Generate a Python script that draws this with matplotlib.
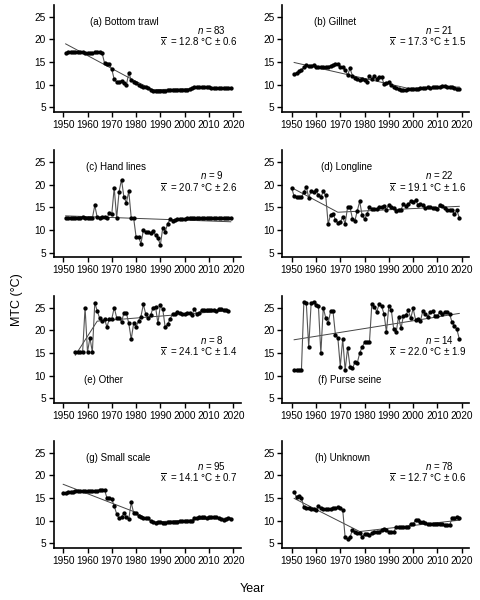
import numpy as np
import matplotlib
matplotlib.use("Agg")
import matplotlib.pyplot as plt

plt.rcParams['font.family'] = ['Liberation Sans', 'DejaVu Sans']
plt.rcParams['mathtext.fontset'] = 'custom'
plt.rcParams['mathtext.rm'] = 'Liberation Sans'
plt.rcParams['mathtext.it'] = 'Liberation Sans:italic'

# --- data (MTC per gear) ---
start_a = 1951
mtc_a = [17.0, 17.1, 17.1, 17.1, 17.1, 17.1, 17.1, 17.1, 17.0, 17.0, 17.0, 17.0, 17.1, 17.1, 17.1, 17.0,
         14.8, 14.6, 14.5, 13.4, 11.2, 10.6, 10.7, 10.9, 10.4, 9.9,
         12.6, 11.0, 10.7, 10.3, 10.0, 9.7, 9.4, 9.5, 9.3, 8.8,
         8.6, 8.6, 8.6, 8.7, 8.7, 8.7, 8.8, 8.8, 8.9, 8.9,
         8.9, 8.9, 8.9, 8.9, 8.9, 9.0, 9.2, 9.4, 9.5, 9.6,
         9.5, 9.5, 9.4, 9.4, 9.3, 9.3, 9.2, 9.2, 9.2, 9.2,
         9.3, 9.3, 9.3]
start_b = 1951
mtc_b = [12.4, 12.6, 13.0, 13.3, 13.8, 14.3, 14.1, 14.2, 14.4, 14.0,
         13.9, 13.8, 13.8, 13.9, 14.0, 14.2, 14.4, 14.5, 14.5, 14.0,
         13.8, 13.2, 12.1, 13.6, 12.0, 11.5, 11.2, 11.0, 11.3, 11.0,
         10.7, 12.0, 11.2, 12.0, 11.3, 11.8, 11.7, 10.2, 10.3, 10.6,
         10.0, 9.5, 9.2, 9.1, 8.9, 8.9, 8.9, 9.0, 9.0, 9.0,
         9.1, 9.1, 9.2, 9.2, 9.3, 9.4, 9.3, 9.4, 9.5, 9.6,
         9.6, 9.7, 9.7, 9.6, 9.5, 9.4, 9.2, 9.1, 9.1]
start_c = 1951
mtc_c = [12.6, 12.6, 12.6, 12.6, 12.6, 12.6, 12.6, 12.9, 12.6, 12.6,
         12.6, 12.6, 15.4, 12.8, 12.6, 12.8, 12.8, 12.6, 13.8, 13.5,
         19.3, 12.6, 18.4, 21.1, 17.2, 16.0, 18.5, 12.7, 12.6, 8.5,
         8.5, 7.0, 9.9, 9.6, 9.5, 9.3, 9.7, 8.9, 8.2, 6.7,
         10.5, 9.6, 11.4, 12.3, 11.9, 12.1, 12.3, 12.4, 12.5, 12.5,
         12.6, 12.6, 12.7, 12.7, 12.6, 12.6, 12.6, 12.6, 12.6, 12.6,
         12.6, 12.6, 12.6, 12.6, 12.6, 12.6, 12.6, 12.6, 12.6]
start_d = 1950
mtc_d = [19.2, 17.4, 17.2, 17.3, 17.2, 18.3, 19.5, 17.1, 18.6, 18.4,
         18.7, 17.8, 17.2, 18.5, 17.6, 11.3, 13.4, 13.6, 12.2, 11.6,
         11.7, 12.8, 11.4, 15.0, 15.0, 12.5, 12.0, 14.2, 16.3, 13.2,
         12.4, 13.5, 15.0, 14.6, 14.6, 14.6, 15.0, 15.1, 15.2, 14.5,
         15.5, 15.0, 14.8, 14.1, 14.5, 14.4, 15.8, 15.2, 15.7, 16.3,
         16.2, 16.6, 15.5, 15.7, 15.4, 14.8, 15.1, 15.0, 14.9, 14.8,
         14.7, 15.5, 15.2, 14.8, 14.5, 14.3, 14.4, 13.5, 14.3, 12.7]
start_e = 1955
mtc_e = [15.2, 15.2, 15.2, 15.3, 25.0, 15.2, 18.3, 15.2, 26.0, 24.3,
         22.6, 22.0, 22.5, 20.7, 22.5, 22.5, 25.0, 22.8, 22.8, 21.8,
         23.8, 23.8, 21.5, 18.0, 21.5, 20.8, 22.0, 23.0, 25.7, 23.5,
         22.6, 23.3, 25.0, 25.2, 21.5, 25.5, 24.6, 20.6, 21.3, 22.5,
         23.5, 23.6, 24.0, 23.8, 23.5, 23.6, 23.8, 23.8, 23.3, 24.7,
         23.6, 23.8, 24.5, 24.5, 24.4, 24.4, 24.5, 24.4, 24.3, 24.7,
         24.6, 24.5, 24.4, 24.2]
start_f = 1951
mtc_f = [11.2, 11.2, 11.2, 11.2, 26.2, 26.0, 16.3, 26.0, 26.3, 25.6,
         25.3, 14.9, 25.0, 22.7, 21.5, 24.2, 24.2, 19.0, 18.3, 12.0,
         18.1, 11.2, 16.1, 12.0, 11.6, 12.9, 12.8, 15.0, 16.3, 17.3,
         17.4, 17.3, 25.8, 25.2, 24.1, 25.7, 25.3, 23.6, 19.6, 25.4,
         24.5, 20.2, 19.5, 23.0, 20.4, 23.2, 23.3, 24.4, 22.6, 24.8,
         22.3, 22.5, 22.0, 24.3, 23.6, 23.0, 24.0, 24.2, 23.2, 23.2,
         24.0, 23.5, 24.0, 24.1, 23.6, 21.8, 21.0, 20.2, 18.1]
start_g = 1950
mtc_g = [16.0, 16.1, 16.2, 16.3, 16.4, 16.6, 16.5, 16.5, 16.5, 16.5,
         16.5, 16.6, 16.6, 16.6, 16.6, 16.8, 16.8, 16.8, 15.0, 14.9,
         14.7, 13.2, 11.5, 10.5, 10.8, 11.6, 10.7, 10.4, 14.0, 11.7,
         11.6, 11.0, 10.7, 10.5, 10.5, 10.6, 10.0, 9.6, 9.4, 9.6,
         9.6, 9.5, 9.4, 9.8, 9.8, 9.8, 9.8, 9.8, 9.9, 9.9,
         9.9, 9.9, 9.9, 9.9, 10.5, 10.6, 10.8, 10.9, 10.9, 10.6,
         10.7, 10.7, 10.8, 10.7, 10.6, 10.3, 10.2, 10.4, 10.5, 10.3]
start_h = 1951
mtc_h = [16.2, 15.2, 15.5, 15.0, 13.0, 12.8, 12.7, 12.6, 12.5, 12.3,
         13.2, 12.8, 12.5, 12.6, 12.5, 12.6, 12.7, 12.8, 12.9, 12.8,
         12.4, 6.3, 6.0, 6.3, 8.0, 7.6, 7.3, 7.2, 6.5, 7.0,
         7.0, 6.9, 7.2, 7.6, 7.5, 7.6, 8.0, 8.2, 7.9, 7.6,
         7.4, 7.5, 8.6, 8.5, 8.6, 8.7, 8.7, 8.6, 9.3, 9.2,
         10.2, 10.1, 9.8, 9.6, 9.4, 9.3, 9.2, 9.2, 9.2, 9.2,
         9.2, 9.2, 9.1, 9.0, 9.0, 10.5, 10.6, 10.7, 10.5]

# segmented trend lines (breakpoints)
trend_a = ([1951, 1979, 1987, 2019], [19.0, 11.0, 8.9, 9.4])
trend_b = ([1951, 1998, 2019], [14.9, 9.2, 9.5])
trend_c = ([1951, 2019], [13.1, 11.8])
trend_d = ([1950, 1969, 2019], [19.3, 13.9, 15.2])
trend_e = ([1955, 1964, 2018], [14.5, 22.0, 24.3])
trend_f = ([1951, 2019], [17.9, 23.7])
trend_g = ([1950, 1979, 1987, 2019], [18.0, 12.0, 9.7, 10.6])
trend_h = ([1951, 1978, 2019], [14.9, 7.6, 10.1])

gear_labels = ['(a) Bottom trawl', '(b) Gillnet', '(c) Hand lines', '(d) Longline',
               '(e) Other', '(f) Purse seine', '(g) Small scale', '(h) Unknown']
n_values = [83, 21, 9, 22, 8, 14, 95, 78]
mean_values = ['12.8', '17.3', '20.7', '19.1', '24.1', '22.0', '14.1', '12.7']
sd_values = ['0.6', '1.5', '2.6', '1.6', '1.4', '1.9', '0.7', '0.6']

starts = [start_a, start_b, start_c, start_d, start_e, start_f, start_g, start_h]
series = [mtc_a, mtc_b, mtc_c, mtc_d, mtc_e, mtc_f, mtc_g, mtc_h]
trends = [trend_a, trend_b, trend_c, trend_d, trend_e, trend_f, trend_g, trend_h]

# --- figure ---
W, H = 481, 600
fig = plt.figure(figsize=(W / 100, H / 100), dpi=100)

col_left = [53.5, 282.0]
row_bottom = [112.0, 257.2, 402.9, 547.9]
ax_w, ax_h = 187.0, 107.2

for i in range(8):
    r, c = divmod(i, 2)
    ax = fig.add_axes([col_left[c] / W, 1 - row_bottom[r] / H, ax_w / W, ax_h / H])
    yrs = np.arange(starts[i], starts[i] + len(series[i]))
    ax.plot(yrs, series[i], color='#555555', lw=0.8, marker='o', ms=2.1,
            mfc='black', mec='black', zorder=3)
    tx, ty = trends[i]
    ax.plot(tx, ty, color='#444444', lw=0.7, zorder=2)

    ax.set_xlim(1946, 2023)
    ax.set_ylim(4, 27.6)
    ax.set_xticks(range(1950, 2021, 10))
    ax.set_yticks([5, 10, 15, 20, 25])
    for s in ['top', 'right']:
        ax.spines[s].set_visible(False)
    for s in ['left', 'bottom']:
        ax.spines[s].set_linewidth(1.2)
    ax.tick_params(direction='out', length=3.5, width=1.0, labelsize=7.3, pad=2)

    if i in (4, 5):
        y_n, y_m, y_lab = 17.9, 15.4, 9.0
    else:
        y_n, y_m, y_lab = 22.0, 19.4, 23.8
    lab_x = [1961, 1959, 1959.5, 1962, 1958.5, 1961, 1959.5, 1959.5][i]
    ax.text(lab_x, y_lab, gear_labels[i], fontsize=7, va='center', ha='left')
    ax.text(2011, y_n, r'$\mathit{n}$ = %d' % n_values[i], fontsize=7, va='center', ha='center')
    ax.text(2021.8, y_m, r'$\overline{\mathrm{x}}$  = %s °C ± %s' % (mean_values[i], sd_values[i]),
            fontsize=7, va='center', ha='right')

fig.text(0.035, 0.5, 'MTC (°C)', rotation=90, fontsize=9, va='center', ha='center')
fig.text(0.524, 0.018, 'Year', fontsize=9, va='center', ha='center')

fig.savefig('out.png', dpi=100)
